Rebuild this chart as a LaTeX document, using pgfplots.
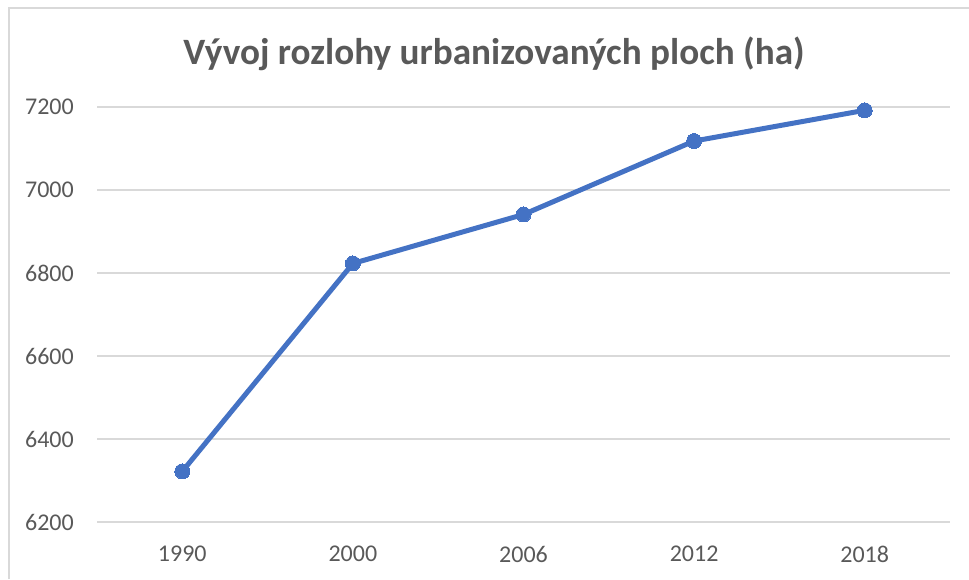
\documentclass[border=0pt]{standalone}
\usepackage{pgfplots}
\pgfplotsset{compat=1.18}
\usepackage{fontspec}
\setmainfont{Carlito}
\definecolor{txt}{HTML}{595959}
\definecolor{grd}{HTML}{D9D9D9}
\definecolor{ser}{HTML}{4472C4}
\begin{document}
\begin{tikzpicture}
\useasboundingbox (0,0) rectangle (969pt,579pt);
\draw[grd, line width=1.5pt] (9pt,0pt) -- (9pt,571pt) -- (969pt,571pt);
\node[anchor=base, text=txt, font=\fontsize{37.2}{40}\selectfont\bfseries, inner sep=0pt] at (494pt,514pt) {Vývoj rozlohy urbanizovaných ploch (ha)};
\begin{axis}[
  at={(97pt,57pt)}, anchor=south west,
  scale only axis, width=853pt, height=415pt,
  xmin=-0.5, xmax=4.5, ymin=6200, ymax=7200,
  xtick={0,1,2,3,4}, xticklabels={1990,2000,2006,2012,2018},
  ytick={6200,6400,6600,6800,7000,7200},
  /pgf/number format/assume math mode=true,
  /pgf/number format/.cd, 1000 sep={}, /pgfplots/.cd,
  ymajorgrids, grid style={grd, line width=1.5pt},
  axis line style={draw=none},
  major tick length=0pt,
  tick label style={text=txt, font=\fontsize{24}{28}\selectfont, inner sep=0pt},
  xticklabel style={anchor=north, yshift=-24pt},
  yticklabel style={anchor=east, xshift=-23pt},
  clip=false,
]
\addplot[ser, line width=5pt, mark=*, mark size=7.5pt, mark options={fill=ser, draw=ser, line width=0pt}] coordinates {
(0,6322) (1,6823) (2,6941) (3,7118) (4,7192)
};
\end{axis}
\end{tikzpicture}
\end{document}
